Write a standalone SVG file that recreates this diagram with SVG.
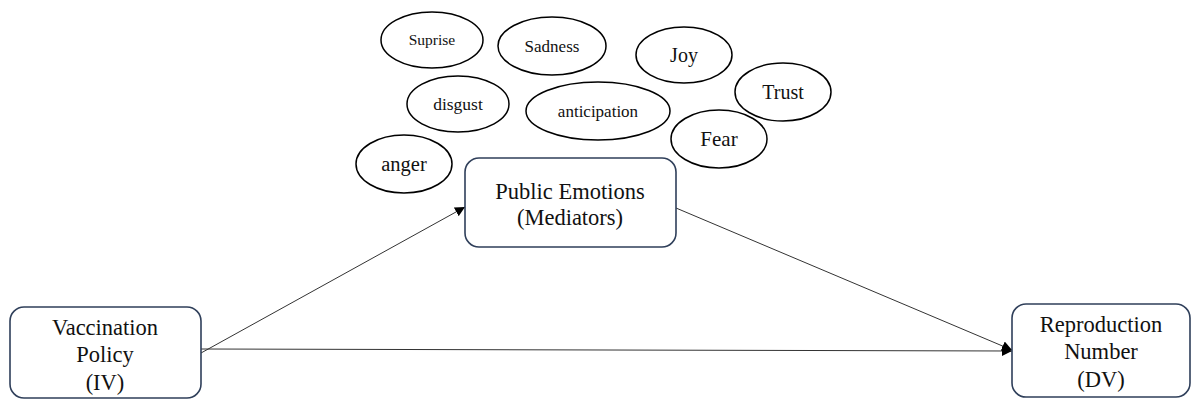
<svg xmlns="http://www.w3.org/2000/svg" width="1195" height="401" viewBox="0 0 1195 401">
  <style>
    .box { fill: #ffffff; stroke: #2f3f5a; stroke-width: 1.6; }
    .emo { fill: #ffffff; stroke: #000000; stroke-width: 1.5; }
    .lbl { font-family: "Liberation Serif", "Times New Roman", serif; fill: #111111; text-anchor: middle; }
    .big { font-size: 22.5px; }
    .edge { stroke: #333333; stroke-width: 1; fill: none; marker-end: url(#arrow); }
  </style>
  <defs>
    <marker id="arrow" viewBox="0 0 10 10" refX="10" refY="5" markerWidth="10" markerHeight="10" markerUnits="userSpaceOnUse" orient="auto">
      <path d="M0,0 L10,5 L0,10 z" fill="#000000"/>
    </marker>
  </defs>
  <rect width="1195" height="401" fill="#ffffff"/>

  <g id="connectors">
    <line class="edge" x1="201" y1="353" x2="465" y2="207"/>
    <line class="edge" x1="201" y1="349" x2="1012" y2="351"/>
    <line class="edge" x1="676" y1="208" x2="1012" y2="350"/>
  </g>

  <g id="emotion-suprise">
    <ellipse class="emo" cx="432" cy="40" rx="51" ry="28"/>
    <text class="lbl" x="432" y="45" font-size="15.5">Suprise</text>
  </g>
  <g id="emotion-sadness">
    <ellipse class="emo" cx="552" cy="46" rx="54" ry="29"/>
    <text class="lbl" x="552" y="52" font-size="17">Sadness</text>
  </g>
  <g id="emotion-joy">
    <ellipse class="emo" cx="684" cy="55" rx="48" ry="28"/>
    <text class="lbl" x="684" y="62" font-size="20">Joy</text>
  </g>
  <g id="emotion-trust">
    <ellipse class="emo" cx="783" cy="92" rx="48" ry="29"/>
    <text class="lbl" x="783" y="99" font-size="20">Trust</text>
  </g>
  <g id="emotion-disgust">
    <ellipse class="emo" cx="458" cy="104" rx="51" ry="28"/>
    <text class="lbl" x="458" y="110" font-size="17.5">disgust</text>
  </g>
  <g id="emotion-anticipation">
    <ellipse class="emo" cx="598" cy="111" rx="72" ry="29"/>
    <text class="lbl" x="598" y="117" font-size="17">anticipation</text>
  </g>
  <g id="emotion-fear">
    <ellipse class="emo" cx="719" cy="139" rx="48" ry="29"/>
    <text class="lbl" x="719" y="146" font-size="21">Fear</text>
  </g>
  <g id="emotion-anger">
    <ellipse class="emo" cx="404" cy="164" rx="48" ry="29"/>
    <text class="lbl" x="404" y="171" font-size="20.5">anger</text>
  </g>

  <g id="node-mediators">
    <rect class="box" x="465" y="158" width="211" height="89" rx="14" ry="14"/>
    <text class="lbl big" x="570" y="199">Public Emotions</text>
    <text class="lbl big" x="570" y="225">(Mediators)</text>
  </g>

  <g id="node-iv">
    <rect class="box" x="10" y="307" width="191" height="91" rx="14" ry="14"/>
    <text class="lbl big" x="105" y="335">Vaccination</text>
    <text class="lbl big" x="105" y="362">Policy</text>
    <text class="lbl big" x="105" y="390">(IV)</text>
  </g>

  <g id="node-dv">
    <rect class="box" x="1012" y="304" width="178" height="93" rx="14" ry="14"/>
    <text class="lbl big" x="1101" y="332">Reproduction</text>
    <text class="lbl big" x="1101" y="359">Number</text>
    <text class="lbl big" x="1101" y="387">(DV)</text>
  </g>
</svg>
